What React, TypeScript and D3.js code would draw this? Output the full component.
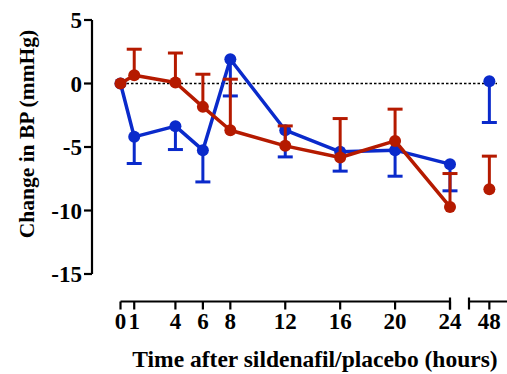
import React from "react";
import * as d3 from "d3";

const times = [0, 1, 4, 6, 8, 12, 16, 20, 24, 48];
const blueMean = [0, -4.2, -3.36, -5.25, 1.91, -3.68, -5.38, -5.25, -6.35, 0.18];
const blueErr = [0, 2.1, 1.84, 2.5, 2.89, 2.1, 1.52, 2.05, 2.1, 3.25];
const redMean = [0, 0.65, 0.08, -1.84, -3.68, -4.91, -5.83, -4.52, -9.72, -8.32];
const redErr = [0, 2.05, 2.32, 2.57, 4.02, 1.57, 3.07, 2.5, 2.63, 2.6];
const xTicks1 = [0, 1, 4, 6, 8, 12, 16, 20, 24];
const xTicks2 = [48];
const yTicks = [5, 0, -5, -10, -15];

const BLUE = "#0a2acb";
const RED = "#b51a00";
const FONT = "'Liberation Serif', 'Times New Roman', serif";

export default function App() {
  const W = 507, H = 374;
  const x1 = d3.scaleLinear().domain([0, 24]).range([120.5, 450]);
  const x2 = d3.scaleLinear().domain([46.5, 49.3]).range([469, 507]);
  const xp = (t: number) => (t <= 24 ? x1(t) : x2(t));
  const y = d3.scaleLinear().domain([-15, 5]).range([274, 20]);
  const axisY = 301.5;
  const yAxisX = 92;
  const cap = 7.5;

  const line = d3
    .line<number>()
    .x((_, i) => xp(times[i]))
    .y((v) => y(v));

  const series = [
    { mean: blueMean, err: blueErr, color: BLUE, dir: -1 },
    { mean: redMean, err: redErr, color: RED, dir: 1 },
  ];

  return (
    <svg width={W} height={H} style={{ position: "absolute", left: 0, top: 0 }}>
      <rect width={W} height={H} fill="white" />
      {/* zero line */}
      <line x1={122} x2={497} y1={y(0)} y2={y(0)} stroke="black" strokeWidth={1.3} strokeDasharray="2.5,2" />
      {/* y axis */}
      <line x1={yAxisX} x2={yAxisX} y1={y(5)} y2={y(-15)} stroke="black" strokeWidth={2.2} />
      {yTicks.map((t) => (
        <g key={t}>
          <line x1={yAxisX - 8} x2={yAxisX} y1={y(t)} y2={y(t)} stroke="black" strokeWidth={2.2} />
          <text x={82} y={y(t)} dy="0.35em" textAnchor="end" fontFamily={FONT} fontWeight="bold" fontSize={23}>
            {t}
          </text>
        </g>
      ))}
      {/* x axis segment 1 */}
      <line x1={x1(0)} x2={x1(24)} y1={axisY} y2={axisY} stroke="black" strokeWidth={2.2} />
      <line x1={x1(24)} x2={x1(24)} y1={axisY - 4} y2={axisY + 8} stroke="black" strokeWidth={2.2} />
      {xTicks1.map((t) => (
        <g key={t}>
          <line x1={x1(t)} x2={x1(t)} y1={axisY} y2={axisY + 8} stroke="black" strokeWidth={2.2} />
          <text x={x1(t)} y={329} textAnchor="middle" fontFamily={FONT} fontWeight="bold" fontSize={23}>
            {t}
          </text>
        </g>
      ))}
      {/* x axis segment 2 */}
      <line x1={469} x2={507} y1={axisY} y2={axisY} stroke="black" strokeWidth={2.2} />
      <line x1={469} x2={469} y1={axisY - 4} y2={axisY + 8} stroke="black" strokeWidth={2.2} />
      {xTicks2.map((t) => (
        <g key={t}>
          <line x1={x2(t)} x2={x2(t)} y1={axisY} y2={axisY + 8} stroke="black" strokeWidth={2.2} />
          <text x={x2(t)} y={329} textAnchor="middle" fontFamily={FONT} fontWeight="bold" fontSize={23}>
            {t}
          </text>
        </g>
      ))}
      {/* series */}
      {series.map((s, si) => (
        <g key={si}>
          {s.mean.map((m, i) =>
            s.err[i] > 0 ? (
              <g key={i}>
                <line x1={xp(times[i])} x2={xp(times[i])} y1={y(m)} y2={y(m + s.dir * s.err[i])} stroke={s.color} strokeWidth={3} />
                <line
                  x1={xp(times[i]) - cap}
                  x2={xp(times[i]) + cap}
                  y1={y(m + s.dir * s.err[i])}
                  y2={y(m + s.dir * s.err[i])}
                  stroke={s.color}
                  strokeWidth={3}
                />
              </g>
            ) : null
          )}
          <path d={line(s.mean.slice(0, 9)) || ""} fill="none" stroke={s.color} strokeWidth={3.5} strokeLinejoin="round" />
          {s.mean.map((m, i) => (
            <circle key={i} cx={xp(times[i])} cy={y(m)} r={6} fill={s.color} />
          ))}
        </g>
      ))}
      {/* labels */}
      <text
        transform={`translate(26,${134}) rotate(-90)`}
        textAnchor="middle"
        dy="0.35em"
        fontFamily={FONT}
        fontWeight="bold"
        fontSize={21.5}
      >
        Change in BP (mmHg)
      </text>
      <text x={315} y={367} textAnchor="middle" fontFamily={FONT} fontWeight="bold" fontSize={23.5}>
        Time after sildenafil/placebo (hours)
      </text>
    </svg>
  );
}
